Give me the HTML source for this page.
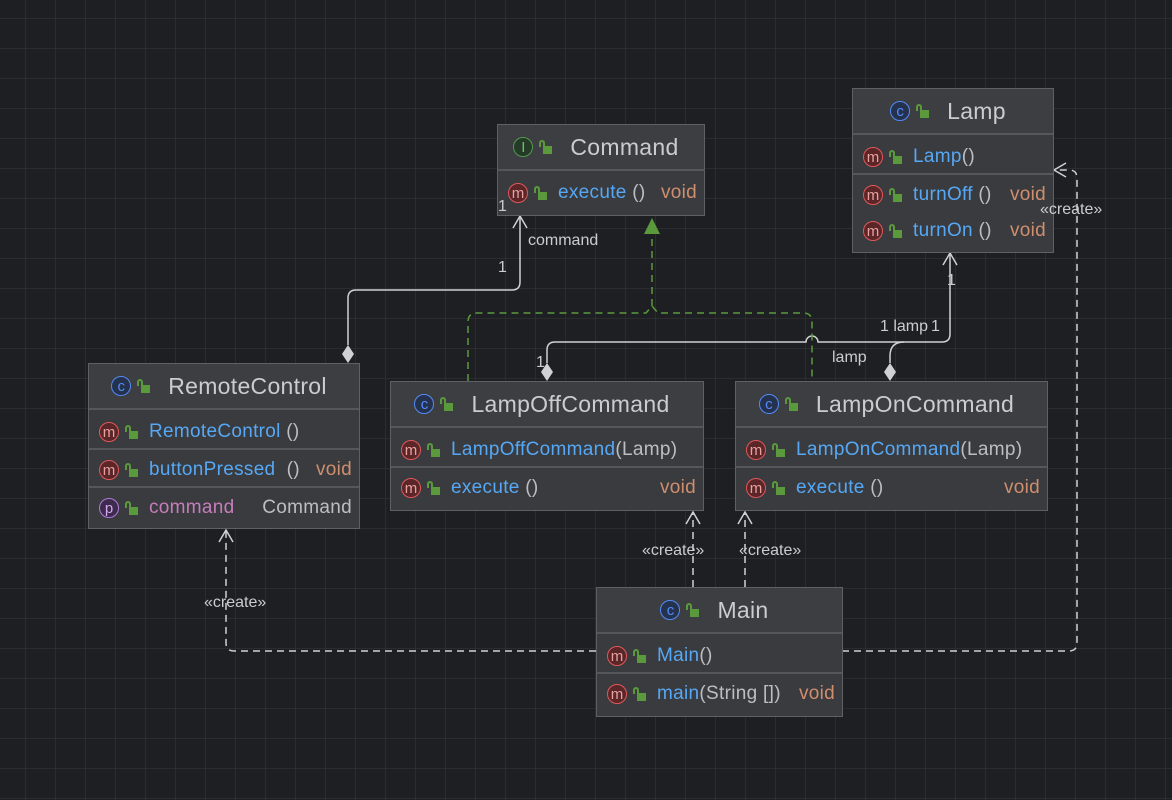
<!DOCTYPE html>
<html><head><meta charset="utf-8"><style>
body{margin:0;width:1172px;height:800px;overflow:hidden;background:#1e1f22;font-family:"Liberation Sans",sans-serif}
.b{position:absolute;border:1px solid #5e6063;background:#393b3f;display:flex;flex-direction:column;box-sizing:border-box}
.h{height:44px;background:#3d3e41;display:flex;align-items:center;justify-content:center;color:#c9ccd1;font-size:23px;border-bottom:2px solid #55575a;flex:none;letter-spacing:0.3px}
.s{border-bottom:2px solid #55575a;padding:0}
.s.f{padding-top:2px}
.s:last-child{border-bottom:none;flex:1}
.r{height:36px;box-sizing:border-box;padding-top:4px;display:flex;align-items:center;padding-left:10px;padding-right:7px;font-size:19px;color:#bcbec4;white-space:nowrap;letter-spacing:0.3px}
.i{width:20px;height:20px;border-radius:50%;border:1.5px solid;box-sizing:border-box;display:inline-flex;align-items:center;justify-content:center;font-size:15px;line-height:1;flex:none;letter-spacing:0}
.c{border-color:#548af7;color:#548af7;background:#25324d}
.m{border-color:#e0585a;color:#e8a0a0;background:#5a2628}
.ii{border-color:#4f9a52;color:#6cbf6e;background:#253a27}
.p{border-color:#b07ad9;color:#d0a8ee;background:#3d2a4d}
.l{width:9px;height:8px;background:#5a9a3c;margin:5px 11px 0 10px;position:relative;flex:none}
.l:before{content:"";position:absolute;left:-4px;top:-6px;width:6px;height:7px;border:2px solid #5a9a3c;border-bottom:none;border-radius:4px 4px 0 0;box-sizing:border-box}
.h .l{margin-right:18px}
.h .i{margin-left:-10px}
.n{color:#56a8f5}.v{color:#cf8e6d;margin-left:auto}.pp{color:#c77dbb}
.t{margin-left:auto}
svg{position:absolute;left:0;top:0}
.lb{fill:#c9ccd1;font-size:16px;font-family:"Liberation Sans",sans-serif}
</style></head><body>
<svg width="1172" height="800">
<defs><pattern id="g" x="25" y="18" width="30" height="30" patternUnits="userSpaceOnUse"><path d="M0 0H30M0 0V30" stroke="#303134" stroke-width="1.5" fill="none"/></pattern></defs>
<rect width="1172" height="800" fill="url(#g)"/>
<g fill="none" stroke="#cfd1d4" stroke-width="1.5">
<path d="M348 345V298Q348 290 356 290H512Q520 290 520 282V216"/>
<path d="M513 228L520 216L527 228"/>
<path d="M547 363V350Q547 342 555 342H806A6 6 0 0 1 818 342H942Q950 342 950 334V253"/>
<path d="M943 265L950 253L957 265"/>
<path d="M890 363V356Q890 342 904 342"/>
<g stroke-dasharray="7 5">
<path d="M596 651H234Q226 651 226 643V530"/>
<path d="M693 587V512"/><path d="M745 587V512"/>
<path d="M842 651H1069Q1077 651 1077 643V178Q1077 170 1069 170H1055"/>
</g>
<path d="M219 542L226 530L233 542"/><path d="M686 524L693 512L700 524"/><path d="M738 524L745 512L752 524"/><path d="M1066 163L1054 170L1066 177"/>
</g>
<path d="M348 345L354 354L348 363L342 354Z" fill="#cfd1d4"/>
<path d="M547 363L553 372L547 381L541 372Z" fill="#cfd1d4"/>
<path d="M890 363L896 372L890 381L884 372Z" fill="#cfd1d4"/>
<g fill="none" stroke="#5a9a3c" stroke-width="1.5" stroke-dasharray="7 5">
<path d="M468 381V322Q468 313 477 313H646L652 306L658 313H803Q812 313 812 322V381"/>
<path d="M652 306V232"/>
</g>
<path d="M644 234L652 218L660 234Z" fill="#5a9a3c"/>
</svg>

<div class="b" style="left:497px;top:124px;width:208px;height:92px">
<div class="h"><span class="i ii">I</span><span class="l"></span>Command</div>
<div class="s f"><div class="r"><span class="i m">m</span><span class="l"></span><span class="n">execute</span>&nbsp;()<span class="v">void</span></div></div>
</div>

<div class="b" style="left:852px;top:88px;width:202px;height:165px">
<div class="h"><span class="i c">c</span><span class="l"></span>Lamp</div>
<div class="s f"><div class="r"><span class="i m">m</span><span class="l"></span><span class="n">Lamp</span>()</div></div>
<div class="s"><div class="r"><span class="i m">m</span><span class="l"></span><span class="n">turnOff</span>&nbsp;()<span class="v">void</span></div><div class="r"><span class="i m">m</span><span class="l"></span><span class="n">turnOn</span>&nbsp;()<span class="v">void</span></div></div>
</div>

<div class="b" style="left:88px;top:363px;width:272px;height:166px">
<div class="h"><span class="i c">c</span><span class="l"></span>RemoteControl</div>
<div class="s f"><div class="r"><span class="i m">m</span><span class="l"></span><span class="n">RemoteControl</span>&nbsp;()</div></div>
<div class="s"><div class="r"><span class="i m">m</span><span class="l"></span><span class="n">buttonPressed</span>&nbsp;&nbsp;()<span class="v">void</span></div></div>
<div class="s"><div class="r"><span class="i p">p</span><span class="l"></span><span class="pp">command</span><span class="t">Command</span></div></div>
</div>

<div class="b" style="left:390px;top:381px;width:314px;height:130px">
<div class="h"><span class="i c">c</span><span class="l"></span>LampOffCommand</div>
<div class="s f"><div class="r"><span class="i m">m</span><span class="l"></span><span class="n">LampOffCommand</span>(Lamp)</div></div>
<div class="s"><div class="r"><span class="i m">m</span><span class="l"></span><span class="n">execute</span>&nbsp;()<span class="v">void</span></div></div>
</div>

<div class="b" style="left:735px;top:381px;width:313px;height:130px">
<div class="h"><span class="i c">c</span><span class="l"></span>LampOnCommand</div>
<div class="s f"><div class="r"><span class="i m">m</span><span class="l"></span><span class="n">LampOnCommand</span>(Lamp)</div></div>
<div class="s"><div class="r"><span class="i m">m</span><span class="l"></span><span class="n">execute</span>&nbsp;()<span class="v">void</span></div></div>
</div>

<div class="b" style="left:596px;top:587px;width:247px;height:130px">
<div class="h"><span class="i c">c</span><span class="l"></span>Main</div>
<div class="s f"><div class="r"><span class="i m">m</span><span class="l"></span><span class="n">Main</span>()</div></div>
<div class="s"><div class="r"><span class="i m">m</span><span class="l"></span><span class="n">main</span>(String [])<span class="v">void</span></div></div>
</div>

<svg width="1172" height="800" style="pointer-events:none">
<text class="lb" x="498" y="211">1</text>
<text class="lb" x="528" y="245">command</text>
<text class="lb" x="498" y="272">1</text>
<text class="lb" x="536" y="367">1</text>
<text class="lb" x="832" y="362">lamp</text>
<text class="lb" x="880" y="331">1  lamp</text><text class="lb" x="931" y="331">1</text>
<text class="lb" x="947" y="285">1</text>
<text class="lb" x="204" y="607">«create»</text>
<text class="lb" x="642" y="555">«create»</text>
<text class="lb" x="739" y="555">«create»</text>
<text class="lb" x="1040" y="214">«create»</text>
</svg>
</body></html>
